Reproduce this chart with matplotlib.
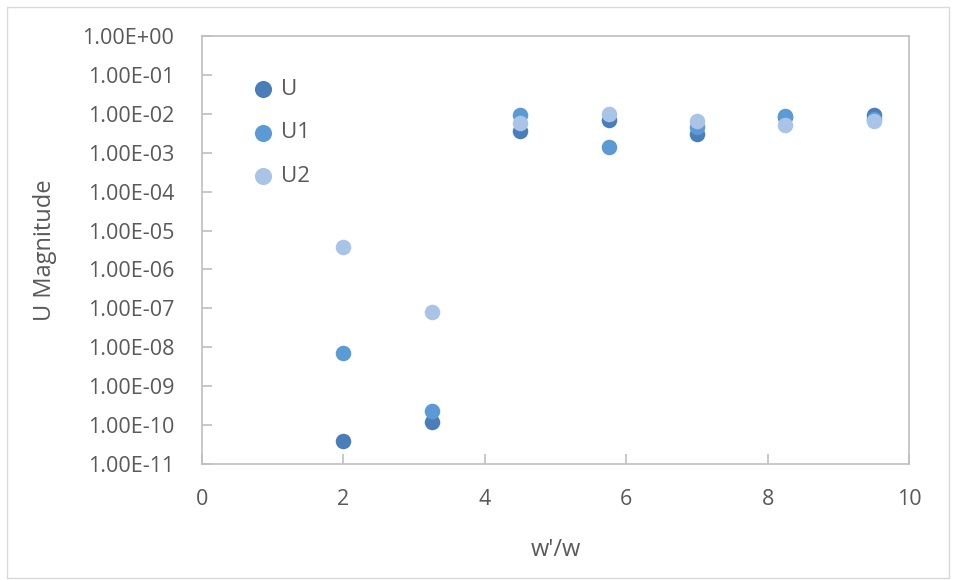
import matplotlib
matplotlib.use("Agg")
import matplotlib.pyplot as plt
from matplotlib.ticker import FuncFormatter, FixedLocator, NullLocator
from matplotlib.patches import Rectangle

x = [2, 3.25, 4.5, 5.75, 7, 8.25, 9.5]
U = [3.9e-11, 1.2e-10, 3.6e-3, 6.9e-3, 3.0e-3, 8.5e-3, 9.3e-3]
U1 = [7.0e-9, 2.3e-10, 9.3e-3, 1.4e-3, 4.6e-3, 8.8e-3, 7.5e-3]
U2 = [3.8e-6, 8.1e-8, 5.8e-3, 1.0e-2, 6.6e-3, 5.2e-3, 6.5e-3]
names = ["U", "U1", "U2"]
colors = ["#4A7EBB", "#5B9BD5", "#A9C4E6"]

plt.rcParams['font.family'] = ['Open Sans', 'DejaVu Sans']
text_c = "#595959"

fig = plt.figure(figsize=(9.56, 5.80), dpi=100)
ax = fig.add_axes([0.2113, 0.2, 0.7395, 0.738])
fig.patches.append(Rectangle((0.007, 0.003), 0.986, 0.985, transform=fig.transFigure,
                             fill=False, edgecolor="#D9D9D9", linewidth=1))

for ys, c, n in zip([U, U1, U2], colors, names):
    ax.scatter(x, ys, s=125, color=c, label=n, linewidths=0, zorder=3)

ax.set_yscale('log')
ax.set_ylim(1e-11, 1)
ax.set_xlim(0, 10)
ax.yaxis.set_major_locator(FixedLocator([10.0**k for k in range(-11, 1)]))
ax.yaxis.set_minor_locator(NullLocator())
ax.yaxis.set_major_formatter(FuncFormatter(lambda v, p: f"{v:.2E}"))
ax.set_xticks([0, 2, 4, 6, 8, 10])

for s in ax.spines.values():
    s.set_color("#BFBFBF")
    s.set_linewidth(1.2)
ax.tick_params(direction='in', length=7, color="#BFBFBF", width=1.2,
               labelcolor=text_c, labelsize=15.5)
ax.tick_params(axis='y', pad=20)
ax.tick_params(axis='x', pad=18)

ax.set_xlabel("w'/w", fontsize=17, color=text_c, labelpad=20)
ax.set_ylabel("U Magnitude", fontsize=17, color=text_c, labelpad=18)

ax.legend(loc='upper left', bbox_to_anchor=(0.055, 0.925), frameon=False,
          fontsize=16, labelspacing=1.0, handlelength=1.0, handletextpad=0.3,
          borderpad=0, labelcolor=text_c, markerscale=1.1)

fig.savefig("out.png", dpi=100)
